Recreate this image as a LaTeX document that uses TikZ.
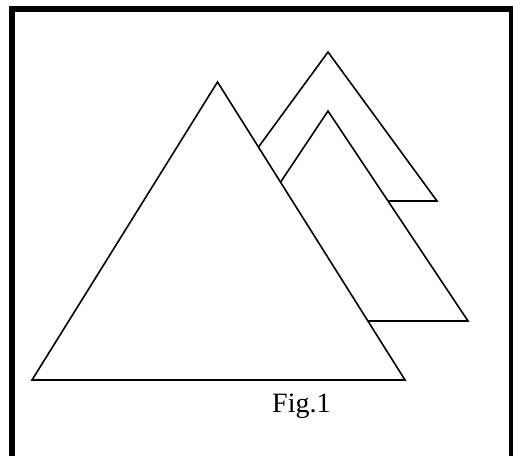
\documentclass[tikz,border=0pt]{standalone}
\usepackage{fontspec}
\setmainfont{Liberation Serif}
\begin{document}
\begin{tikzpicture}[x=1pt,y=-1pt,
  tri/.style={draw=black,fill=white,line width=1.6pt,line join=miter},
  frame/.style={draw=black,line width=6pt}]
\useasboundingbox (0,0) rectangle (513,455);
\begin{scope}
\clip (0,0) rectangle (513,455);
\draw[frame] (12,9) rectangle (512,470);
\end{scope}
\coordinate (t1a) at (328,52);
\coordinate (t1l) at (219,201);
\coordinate (t1r) at (437,201);
\coordinate (t2a) at (328,111);
\coordinate (t2l) at (188,321);
\coordinate (t2r) at (468,321);
\coordinate (ba) at (217.5,82);
\coordinate (bl) at (32,380);
\coordinate (br) at (405,380);
\filldraw[tri] (t1a) -- (t1r) -- (t1l) -- cycle;
\filldraw[tri] (t2a) -- (t2r) -- (t2l) -- cycle;
\filldraw[tri] (ba) -- (br) -- (bl) -- cycle;
\node[anchor=base west, inner sep=0pt] (cap) at (272,412) {\fontsize{28}{32}\selectfont Fig.1};
\end{tikzpicture}
\end{document}
